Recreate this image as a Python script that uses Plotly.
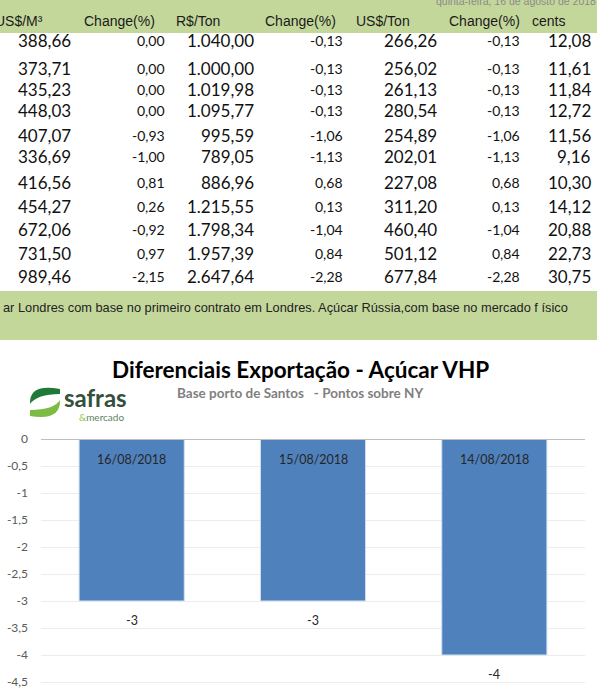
import plotly.graph_objects as go

W, H = 597, 688

# ---------------- data ----------------
table_headers = ["US$/M³", "Change(%)", "R$/Ton", "Change(%)", "US$/Ton", "Change(%)", "cents"]
usd_m3 = [388.66, 373.71, 435.23, 448.03, 407.07, 336.69, 416.56, 454.27, 672.06, 731.50, 989.46]
chg_usd_m3 = [0.00, 0.00, 0.00, 0.00, -0.93, -1.00, 0.81, 0.26, -0.92, 0.97, -2.15]
brl_ton = [1040.00, 1000.00, 1019.98, 1095.77, 995.59, 789.05, 886.96, 1215.55, 1798.34, 1957.39, 2647.64]
chg_brl_ton = [-0.13, -0.13, -0.13, -0.13, -1.06, -1.13, 0.68, 0.13, -1.04, 0.84, -2.28]
usd_ton = [266.26, 256.02, 261.13, 280.54, 254.89, 202.01, 227.08, 311.20, 460.40, 501.12, 677.84]
chg_usd_ton = [-0.13, -0.13, -0.13, -0.13, -1.06, -1.13, 0.68, 0.13, -1.04, 0.84, -2.28]
cents = [12.08, 11.61, 11.84, 12.72, 11.56, 9.16, 10.30, 14.12, 20.88, 22.73, 30.75]

date_caption = "quinta-feira, 16 de agosto de 2018"
note_text = "ar Londres com base no primeiro contrato em Londres. Açúcar Rússia,com base no mercado f ísico"

chart_title = "Diferenciais Exportação - Açúcar VHP"
chart_subtitle = "Base porto de Santos\u00a0\u00a0\u00a0- Pontos sobre NY"
dates = ["16/08/2018", "15/08/2018", "14/08/2018"]
diffs = [-3, -3, -4]
y_ticks = [0, -0.5, -1, -1.5, -2, -2.5, -3, -3.5, -4, -4.5]
y_ticklabels = ["0", "-0,5", "-1", "-1,5", "-2", "-2,5", "-3", "-3,5", "-4", "-4,5"]

# ---------------- helpers ----------------
def fmt_br(v):
    s = f"{abs(v):,.2f}".replace(",", "X").replace(".", ",").replace("X", ".")
    return ("-" if v < 0 else "") + s

def px(x):
    return x / W

def py(y):
    return 1 - y / H

GREEN = "#c4d79b"
annotations = []
shapes = []

# green bands
shapes.append(dict(type="rect", xref="paper", yref="paper", x0=0, x1=1, y0=py(33), y1=1,
                   fillcolor=GREEN, line=dict(width=0), layer="below"))
shapes.append(dict(type="rect", xref="paper", yref="paper", x0=0, x1=1, y0=py(340), y1=py(291),
                   fillcolor=GREEN, line=dict(width=0), layer="below"))

# date caption (cut at top)
annotations.append(dict(text=date_caption, xref="paper", yref="paper", x=px(598), y=py(1),
                        xanchor="right", yanchor="middle", showarrow=False,
                        font=dict(family="Liberation Sans", size=10.5, color="#8a8a8a")))

# header row
hdr_anchor = [("right", 45), ("left", 82), ("left", 174), ("left", 263), ("left", 354), ("left", 447), ("left", 530)]
for h, (anc, x) in zip(table_headers, hdr_anchor):
    annotations.append(dict(text=h, xref="paper", yref="paper", x=px(x), y=py(20.5),
                            xanchor=anc, yanchor="middle", showarrow=False,
                            font=dict(family="Liberation Sans", size=14, color="#1a1a1a")))

# table body
row_y = [40.5, 68.3, 89.8, 110.7, 135, 157, 182.7, 206.7, 229.3, 253.3, 276.7]
cols = [usd_m3, chg_usd_m3, brl_ton, chg_brl_ton, usd_ton, chg_usd_ton, cents]
col_right = [73, 167, 256, 345, 439, 522, 593]
col_big = [True, False, True, False, True, False, True]
for col, xr, big in zip(cols, col_right, col_big):
    for v, yy in zip(col, row_y):
        annotations.append(dict(text=fmt_br(v), xref="paper", yref="paper", x=px(xr), y=py(yy),
                                xanchor="right", yanchor="middle", showarrow=False,
                                font=dict(family="Lato", size=17 if big else 14, color="#111111")))

# note
annotations.append(dict(text=note_text, xref="paper", yref="paper", x=px(1), y=py(307),
                        xanchor="left", yanchor="middle", showarrow=False,
                        font=dict(family="Liberation Sans", size=12.8, color="#222222")))

# chart title / subtitle
annotations.append(dict(text=chart_title, xref="paper", yref="paper", x=px(300), y=py(370),
                        xanchor="center", yanchor="middle", showarrow=False,
                        font=dict(family="Lato", size=22.5, color="#000000", weight="bold")))
annotations.append(dict(text=chart_subtitle, xref="paper", yref="paper", x=px(300), y=py(393),
                        xanchor="center", yanchor="middle", showarrow=False,
                        font=dict(family="Lato", size=13.5, color="#7f7f7f", weight="bold")))

# logo
def path(points_cmds):
    out = []
    for c in points_cmds:
        if isinstance(c, str):
            out.append(c)
        else:
            out.append(f"{px(c[0]):.5f},{py(c[1]):.5f}")
    return " ".join(out)

top_cres = path(["M", (60, 389), "Q", (29, 383), (30, 404), "Q", (37, 394), (60, 394), "Z"])
bot_cres = path(["M", (30, 416), "Q", (61, 421), (60, 400), "Q", (54, 410), (30, 410), "Z"])
shapes.append(dict(type="path", xref="paper", yref="paper", path=top_cres,
                   fillcolor="#1f7a3a", line=dict(width=0)))
shapes.append(dict(type="path", xref="paper", yref="paper", path=bot_cres,
                   fillcolor="#7dbb42", line=dict(width=0)))
annotations.append(dict(text="safras", xref="paper", yref="paper", x=px(62), y=py(397),
                        xanchor="left", yanchor="middle", showarrow=False,
                        font=dict(family="Lato", size=24, color="#34503c", weight="bold")))
annotations.append(dict(text="<span style='color:#8cc63f'>&amp;</span>mercado", xref="paper", yref="paper",
                        x=px(77), y=py(417), xanchor="left", yanchor="middle", showarrow=False,
                        font=dict(family="Lato", size=10, color="#5f7f5f")))

# ---------------- bar chart ----------------
fig = go.Figure()
fig.add_trace(go.Bar(x=dates, y=diffs, marker=dict(color="#4f81bd", line=dict(color="#d6e1f0", width=1)),
                     width=0.58, hoverinfo="skip"))

for d, v in zip(dates, diffs):
    annotations.append(dict(text=d, x=d, y=0, xref="x", yref="y", yanchor="top", yshift=-11,
                            showarrow=False, font=dict(family="Lato", size=12.5, color="#262626")))
    annotations.append(dict(text=str(v), x=d, y=v, xref="x", yref="y", yanchor="top", yshift=-10,
                            showarrow=False, font=dict(family="Lato", size=12.5, color="#262626")))

shapes.append(dict(type="line", xref="x domain", yref="y", x0=0, x1=1, y0=0, y1=0,
                   line=dict(color="#bfbfbf", width=2)))

Y_MIN = -4.55
PX_PER_UNIT = 54.0
y_bottom_px = 439 + (-Y_MIN) * PX_PER_UNIT

fig.update_layout(
    width=W, height=H,
    margin=dict(l=0, r=0, t=0, b=0, autoexpand=False),
    paper_bgcolor="white", plot_bgcolor="white",
    showlegend=False,
    xaxis=dict(domain=[px(41), px(585)], range=[-0.5, 2.5], showticklabels=False, automargin=False,
               showgrid=False, zeroline=False, fixedrange=True),
    yaxis=dict(domain=[1 - y_bottom_px / H, 1 - 439 / H], range=[Y_MIN, 0], tickvals=y_ticks, ticktext=y_ticklabels,
               showgrid=True, gridcolor="#ececec", gridwidth=1, zeroline=False, automargin=False,
               tickfont=dict(family="Lato", size=12, color="#595959"), ticklabelstandoff=12,
               ticklabeloverflow="allow", fixedrange=True),
    annotations=annotations,
    shapes=shapes,
)

fig.write_html(
    "out.html", config={"displayModeBar": False},
    post_script=("document.documentElement.style.margin='0';document.body.style.margin='0';"
                 "document.body.style.overflow='hidden';"
                 "var gd=document.getElementById('{plot_id}');"
                 "gd.style.position='fixed';gd.style.top='0px';gd.style.left='0px';"),
)
